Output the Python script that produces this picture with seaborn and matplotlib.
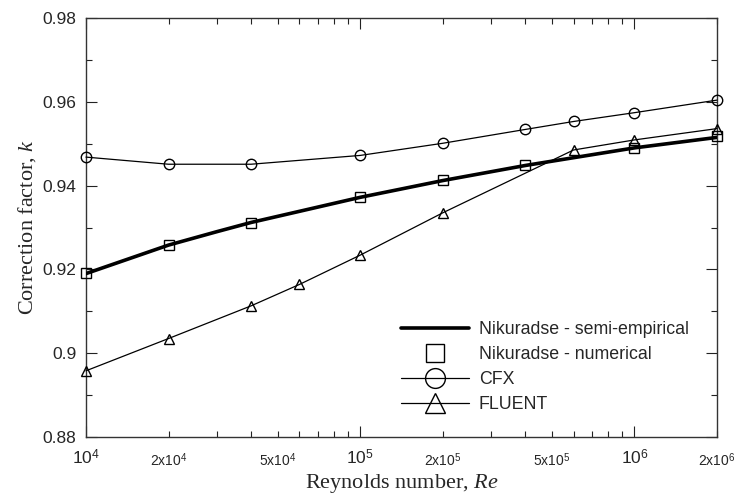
import numpy as np
import pandas as pd
import matplotlib
matplotlib.use("Agg")
import matplotlib.pyplot as plt
from matplotlib.ticker import FixedLocator, FixedFormatter, NullFormatter
import seaborn as sns

# Reynolds numbers and correction factors
re_semi = [1e4, 2e4, 3e4, 4e4, 1e5, 2e5, 4e5, 1e6, 2e6]
k_semi = [0.9190, 0.9258, 0.9290, 0.9312, 0.9372, 0.9412, 0.9448, 0.9490, 0.9515]

re_num = [1e4, 2e4, 4e4, 1e5, 2e5, 4e5, 1e6, 2e6]
k_num = [0.9191, 0.9258, 0.9311, 0.9372, 0.9413, 0.9449, 0.9490, 0.9518]

re_cfx = [1e4, 2e4, 4e4, 1e5, 2e5, 4e5, 6e5, 1e6, 2e6]
k_cfx = [0.9468, 0.9451, 0.9451, 0.9472, 0.9501, 0.9534, 0.9553, 0.9574, 0.9604]

re_fluent = [1e4, 2e4, 4e4, 6e4, 1e5, 2e5, 6e5, 1e6, 2e6]
k_fluent = [0.8958, 0.9035, 0.9113, 0.9164, 0.9234, 0.9335, 0.9485, 0.9509, 0.9536]

labels = ["Nikuradse - semi-empirical", "Nikuradse - numerical", "CFX", "FLUENT"]

major_ticks = [1e4, 1e5, 1e6]
major_labels = ["$10^{4}$", "$10^{5}$", "$10^{6}$"]
minor_labeled = {2e4: "2x$10^{4}$", 5e4: "5x$10^{4}$", 2e5: "2x$10^{5}$",
                 5e5: "5x$10^{5}$", 2e6: "2x$10^{6}$"}

sns.set_style("ticks")
plt.rcParams["font.family"] = ["Liberation Sans", "DejaVu Sans"]
plt.rcParams["mathtext.fontset"] = "custom"
plt.rcParams["mathtext.rm"] = "Liberation Sans"
plt.rcParams["mathtext.it"] = "Liberation Serif:italic"

fig = plt.figure(figsize=(7.36, 4.97), dpi=100)
ax = fig.add_axes([0.1168, 0.1207, 0.8573, 0.8431])
ax.set_xscale("log")

df_semi = pd.DataFrame({"Re": re_semi, "k": k_semi})
df_num = pd.DataFrame({"Re": re_num, "k": k_num})
df_cfx = pd.DataFrame({"Re": re_cfx, "k": k_cfx})
df_fl = pd.DataFrame({"Re": re_fluent, "k": k_fluent})

marker_kw = dict(markerfacecolor="none", markeredgecolor="black",
                 markeredgewidth=1.0, clip_on=False, zorder=4)

sns.lineplot(data=df_semi, x="Re", y="k", ax=ax, color="black", lw=2.6,
             label=labels[0], zorder=3)
sns.lineplot(data=df_num, x="Re", y="k", ax=ax, color="black", lw=0,
             marker="s", markersize=7, label=labels[1], **marker_kw)
sns.lineplot(data=df_cfx, x="Re", y="k", ax=ax, color="black", lw=0.9,
             marker="o", markersize=7.5, label=labels[2], **marker_kw)
sns.lineplot(data=df_fl, x="Re", y="k", ax=ax, color="black", lw=0.9,
             marker="^", markersize=7.5, label=labels[3], **marker_kw)

ax.set_xlim(1e4, 2e6)
ax.set_ylim(0.88, 0.98)

# x ticks: decades as major, 2..9 multiples as minor
ax.xaxis.set_major_locator(FixedLocator(major_ticks))
ax.xaxis.set_major_formatter(FixedFormatter(major_labels))
minor_pos = []
for d in [1e4, 1e5, 1e6]:
    for m in range(2, 10):
        v = m * d
        if v <= 2e6 + 1:
            minor_pos.append(v)
ax.xaxis.set_minor_locator(FixedLocator(minor_pos))
ax.xaxis.set_minor_formatter(FixedFormatter([minor_labeled.get(v, "") for v in minor_pos]))

ax.set_yticks([0.88, 0.90, 0.92, 0.94, 0.96, 0.98])
ax.set_yticklabels(["0.88", "0.9", "0.92", "0.94", "0.96", "0.98"])
ax.set_yticks([0.89, 0.91, 0.93, 0.95, 0.97], minor=True)
ax.yaxis.set_minor_formatter(NullFormatter())

ax.tick_params(which="both", direction="in", top=True, right=True,
               color="#222222", width=0.8)
ax.tick_params(which="major", length=8)
ax.tick_params(which="minor", length=4)
ax.tick_params(axis="y", which="major", labelsize=12.5, pad=7)
ax.tick_params(axis="x", which="major", labelsize=12.5, pad=8)
ax.tick_params(axis="x", which="minor", labelsize=10, pad=10.5)

for s in ax.spines.values():
    s.set_color("#333333")
    s.set_linewidth(1.0)

ax.set_xlabel("Reynolds number, $Re$", fontsize=16, family="Liberation Serif", labelpad=2)
ax.set_ylabel("Correction factor, $k$", fontsize=16, family="Liberation Serif", labelpad=3)

leg = ax.legend(loc="upper left", bbox_to_anchor=(0.5, 0.276), frameon=False,
                fontsize=12.8, handlelength=3.8, handletextpad=0.55,
                labelspacing=0.45, borderpad=0, borderaxespad=0, markerscale=1.9)

fig.savefig("out.png", dpi=100)
